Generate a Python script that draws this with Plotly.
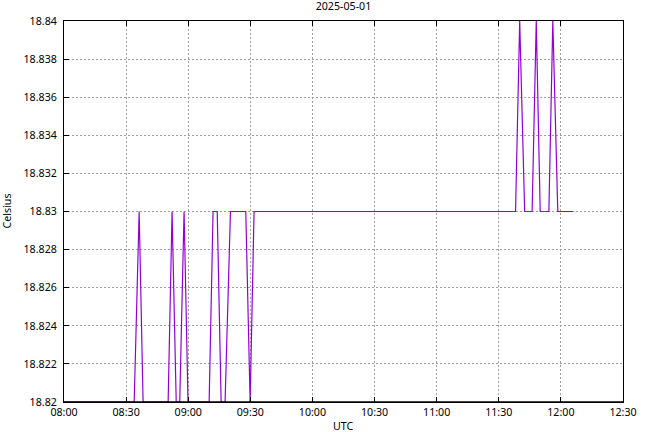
import plotly.graph_objects as go

# ---- data ----
times = [
    "2025-05-01 08:00:00", "2025-05-01 08:33:54", "2025-05-01 08:36:18", "2025-05-01 08:38:12",
    "2025-05-01 08:50:18", "2025-05-01 08:52:12", "2025-05-01 08:54:12",
    "2025-05-01 08:55:54", "2025-05-01 08:58:00", "2025-05-01 08:59:54",
    "2025-05-01 09:10:06", "2025-05-01 09:12:00", "2025-05-01 09:14:00", "2025-05-01 09:15:54",
    "2025-05-01 09:17:48", "2025-05-01 09:20:24", "2025-05-01 09:27:48", "2025-05-01 09:29:54",
    "2025-05-01 09:31:48",
    "2025-05-01 11:38:06", "2025-05-01 11:40:06", "2025-05-01 11:42:30",
    "2025-05-01 11:46:06", "2025-05-01 11:48:06", "2025-05-01 11:50:00",
    "2025-05-01 11:54:12", "2025-05-01 11:56:06", "2025-05-01 11:58:30",
    "2025-05-01 12:05:54",
]
celsius = [
    18.82, 18.82, 18.83, 18.82,
    18.82, 18.83, 18.82,
    18.82, 18.83, 18.82,
    18.82, 18.83, 18.83, 18.82,
    18.82, 18.83, 18.83, 18.82,
    18.83,
    18.83, 18.84, 18.83,
    18.83, 18.84, 18.83,
    18.83, 18.84, 18.83,
    18.83,
]

y_tick_vals = [18.82, 18.822, 18.824, 18.826, 18.828, 18.83, 18.832, 18.834, 18.836, 18.838, 18.84]
y_tick_text = ["18.82", "18.822", "18.824", "18.826", "18.828", "18.83", "18.832", "18.834", "18.836", "18.838", "18.84"]
x_tick_vals = ["2025-05-01 08:00", "2025-05-01 08:30", "2025-05-01 09:00", "2025-05-01 09:30",
               "2025-05-01 10:00", "2025-05-01 10:30", "2025-05-01 11:00", "2025-05-01 11:30",
               "2025-05-01 12:00", "2025-05-01 12:30"]
x_tick_text = ["08:00", "08:30", "09:00", "09:30", "10:00", "10:30", "11:00", "11:30", "12:00", "12:30"]
x_range = ["2025-05-01 08:00", "2025-05-01 12:30"]
y_range = [18.82, 18.84]

title_text = "2025-05-01"
x_label = "UTC"
y_label = "Celsius"

FONT = "Noto Sans"
FS = 10.67
GRID = "#a0a0a0"

fig = go.Figure()
fig.add_trace(go.Scatter(
    x=times, y=celsius, mode="lines",
    line=dict(color="#9400d3", width=1.2),
    showlegend=False, hoverinfo="skip",
))

fig.update_layout(
    width=665, height=432,
    margin=dict(l=64, r=42, t=21, b=30),
    paper_bgcolor="white", plot_bgcolor="white",
    font=dict(family=FONT, size=FS, color="black"),
    title=dict(text=title_text, x=0.5, xref="paper", xanchor="center",
               y=1 - 6 / 432, yanchor="middle", yref="container",
               font=dict(family=FONT, size=FS, color="black")),
    showlegend=False,
    xaxis=dict(
        type="date", range=x_range,
        tickmode="array", tickvals=x_tick_vals, ticktext=x_tick_text,
        ticks="inside", ticklen=5, tickwidth=1, tickcolor="black",
        showline=True, linecolor="black", linewidth=1, mirror="allticks",
        showgrid=True, gridcolor=GRID, griddash="2px,2px", gridwidth=1,
        zeroline=False, fixedrange=True,
    ),
    yaxis=dict(
        range=y_range,
        tickmode="array", tickvals=y_tick_vals, ticktext=y_tick_text,
        ticks="inside", ticklen=5, tickwidth=1, tickcolor="black",
        showline=True, linecolor="black", linewidth=1, mirror=True,
        showgrid=True, gridcolor=GRID, griddash="2px,2px", gridwidth=1,
        zeroline=False, ticklabelstandoff=4,
    ),
    yaxis2=dict(
        range=y_range, overlaying="y", side="right",
        tickmode="array", tickvals=y_tick_vals, ticktext=y_tick_text,
        ticks="inside", ticklen=5, tickwidth=1, tickcolor="black",
        showline=False, showgrid=False, zeroline=False, ticklabelstandoff=4,
    ),
    shapes=[
        dict(type="line", xref="paper", yref="paper", x0=0, x1=1, y0=0, y1=0,
             line=dict(color="black", width=1.5), layer="above"),
    ],
    annotations=[
        dict(text=x_label, xref="paper", yref="paper", x=0.5, y=-(425.5 - 402) / 381,
             xanchor="center", yanchor="middle", showarrow=False,
             font=dict(family=FONT, size=FS, color="black")),
        dict(text=y_label, xref="paper", yref="paper", x=-(64 - 6) / 559, y=0.5,
             xanchor="center", yanchor="middle", showarrow=False, textangle=-90,
             font=dict(family=FONT, size=FS, color="black")),
    ],
)

fig.write_html("out.html", config={"displayModeBar": False},
               post_script="document.body.style.margin='0px';document.body.style.padding='0px';")
